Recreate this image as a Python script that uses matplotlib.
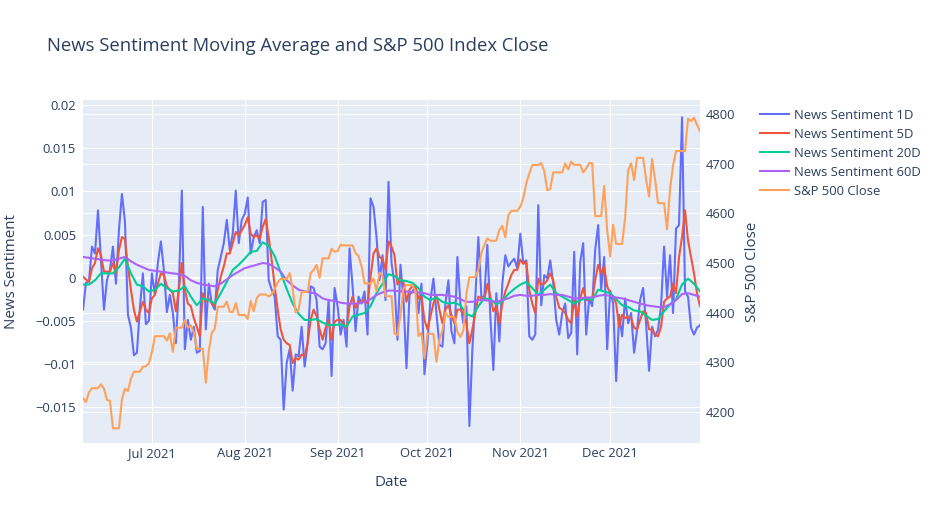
import matplotlib
matplotlib.use("Agg")
import matplotlib.pyplot as plt
import matplotlib.dates as mdates
from matplotlib.ticker import FuncFormatter
import pandas as pd

start = "2021-06-08"
end = "2021-12-31"

# daily news sentiment
sentiment_1d = [
    -0.0037, -0.0006, -0.0004, 0.0036, 0.0028, 0.0078, 0.0020, -0.0037, -0.0003, 0.0009,
    0.0036, -0.0007, 0.0055, 0.0097, 0.0065, -0.0043, -0.0058, -0.0090, -0.0087, -0.0035,
    0.0005, -0.0054, -0.0050, 0.0005, -0.0020, 0.0017, 0.0042, 0.0009, -0.0040, -0.0020,
    -0.0041, -0.0076, -0.0010, 0.0101, -0.0083, -0.0049, -0.0072, -0.0057, -0.0087, -0.0085,
    0.0082, -0.0060, -0.0007, -0.0030, -0.0037, 0.0009, 0.0024, 0.0040, 0.0067, 0.0032,
    0.0051, 0.0101, 0.0040, 0.0067, 0.0074, 0.0093, 0.0028, 0.0047, 0.0055, 0.0040,
    0.0088, 0.0090, -0.0003, -0.0014, -0.0022, -0.0068, -0.0072, -0.0153, -0.0099, -0.0083,
    -0.0131, -0.0089, -0.0091, -0.0057, -0.0103, -0.0076, -0.0010, -0.0012, -0.0026, -0.0080,
    -0.0083, -0.0076, -0.0026, -0.0114, -0.0012, -0.0033, -0.0066, -0.0049, -0.0080, 0.0034,
    -0.0010, -0.0062, -0.0022, -0.0030, -0.0016, -0.0066, 0.0092, 0.0082, 0.0047, -0.0003,
    0.0026, -0.0026, 0.0111, 0.0017, -0.0007, -0.0072, 0.0015, -0.0026, -0.0105, -0.0020,
    -0.0016, -0.0010, -0.0041, -0.0007, -0.0112, -0.0076, -0.0026, -0.0001, -0.0041, -0.0078,
    -0.0080, -0.0030, -0.0003, -0.0062, -0.0076, 0.0024, -0.0030, -0.0053, -0.0033, -0.0172,
    -0.0083, -0.0022, 0.0047, -0.0022, -0.0022, 0.0038, -0.0045, -0.0107, -0.0018, -0.0074,
    -0.0007, 0.0026, 0.0013, 0.0018, 0.0022, 0.0011, 0.0051, 0.0017, 0.0020, -0.0068,
    -0.0072, -0.0066, 0.0084, -0.0032, 0.0003, -0.0001, 0.0020, -0.0007, -0.0049, -0.0066,
    -0.0041, -0.0030, -0.0070, -0.0064, 0.0030, -0.0089, 0.0018, 0.0040, -0.0066, -0.0024,
    -0.0033, 0.0032, 0.0061, -0.0014, 0.0024, -0.0083, -0.0015, -0.0030, -0.0120, -0.0043,
    -0.0068, -0.0024, -0.0053, -0.0041, -0.0087, -0.0060, -0.0026, -0.0012, -0.0053, -0.0108,
    -0.0057, -0.0068, -0.0060, -0.0033, 0.0036, -0.0022, 0.0026, -0.0041, 0.0057, 0.0061,
    0.0186, -0.0016, -0.0022, -0.0058, -0.0066, -0.0058, -0.0055,
]

# 5 day average, daily
sentiment_5d = [
    0.0001, -0.0002, -0.0005, 0.0011, 0.0017, 0.0034, 0.0026, 0.0007, 0.0007, 0.0007,
    0.0017, 0.0005, 0.0032, 0.0047, 0.0045, 0.0013, -0.0014, -0.0037, -0.0051, -0.0039,
    -0.0028, -0.0037, -0.0041, -0.0024, -0.0020, -0.0007, 0.0005, 0.0003, -0.0010, -0.0014,
    -0.0018, -0.0039, -0.0014, 0.0017, -0.0014, -0.0030, -0.0033, -0.0047, -0.0057, -0.0068,
    -0.0018, -0.0028, -0.0024, -0.0030, -0.0033, -0.0014, 0.0001, 0.0013, 0.0028, 0.0028,
    0.0040, 0.0053, 0.0049, 0.0055, 0.0061, 0.0070, 0.0051, 0.0047, 0.0049, 0.0045,
    0.0059, 0.0068, 0.0047, 0.0020, -0.0010, -0.0037, -0.0060, -0.0072, -0.0076, -0.0078,
    -0.0099, -0.0093, -0.0095, -0.0089, -0.0091, -0.0076, -0.0049, -0.0037, -0.0045, -0.0060,
    -0.0072, -0.0058, -0.0049, -0.0072, -0.0051, -0.0049, -0.0049, -0.0055, -0.0059, -0.0033,
    -0.0022, -0.0035, -0.0028, -0.0028, -0.0026, -0.0030, 0.0001, 0.0028, 0.0034, 0.0024,
    0.0022, 0.0009, 0.0042, 0.0036, 0.0026, -0.0008, -0.0001, -0.0005, -0.0028, -0.0014,
    -0.0010, -0.0010, -0.0024, -0.0022, -0.0049, -0.0060, -0.0045, -0.0030, -0.0020, -0.0037,
    -0.0053, -0.0037, -0.0032, -0.0043, -0.0053, -0.0037, -0.0037, -0.0041, -0.0053, -0.0076,
    -0.0060, -0.0041, -0.0022, -0.0024, -0.0026, -0.0007, -0.0022, -0.0039, -0.0033, -0.0053,
    -0.0030, -0.0016, -0.0007, 0.0003, 0.0009, 0.0009, 0.0021, 0.0016, 0.0018, -0.0014,
    -0.0030, -0.0041, -0.0001, -0.0008, -0.0007, -0.0003, 0.0005, -0.0003, -0.0022, -0.0035,
    -0.0037, -0.0041, -0.0049, -0.0053, -0.0026, -0.0045, -0.0024, -0.0012, -0.0026, -0.0026,
    -0.0026, -0.0003, 0.0015, 0.0005, 0.0013, -0.0010, -0.0018, -0.0022, -0.0030, -0.0057,
    -0.0043, -0.0047, -0.0045, -0.0047, -0.0058, -0.0060, -0.0049, -0.0039, -0.0041, -0.0060,
    -0.0060, -0.0066, -0.0068, -0.0057, -0.0028, -0.0024, -0.0022, -0.0007, -0.0018, 0.0024,
    0.0047, 0.0078, 0.0043, 0.0024, 0.0005, -0.0018, -0.0033,
]

# 20 and 60 day averages, read every second day
sentiment_20d = [
    -0.0008, -0.0008, -0.0003, 0.0005, 0.0005, 0.0005, 0.0012, 0.0022, 0.0005, -0.0008,
    -0.0010, -0.0016, -0.0014, -0.0007, -0.0012, -0.0016, -0.0015, -0.0010, -0.0022, -0.0032,
    -0.0024, -0.0026, -0.0030, -0.0018, -0.0005, 0.0009, 0.0015, 0.0022, 0.0030, 0.0031,
    0.0041, 0.0037, 0.0025, 0.0006, -0.0013, -0.0030, -0.0042, -0.0049, -0.0049, -0.0048,
    -0.0052, -0.0055, -0.0055, -0.0054, -0.0057, -0.0045, -0.0043, -0.0041, -0.0033, -0.0018,
    -0.0007, 0.0004, 0.0002, -0.0003, -0.0004, -0.0006, -0.0012, -0.0022, -0.0026, -0.0023,
    -0.0028, -0.0030, -0.0029, -0.0032, -0.0042, -0.0045, -0.0033, -0.0024, -0.0025, -0.0031,
    -0.0027, -0.0019, -0.0013, -0.0008, -0.0005, -0.0012, -0.0020, -0.0014, -0.0008, -0.0018,
    -0.0022, -0.0026, -0.0030, -0.0026, -0.0024, -0.0026, -0.0014, -0.0016, -0.0018, -0.0025,
    -0.0032, -0.0034, -0.0038, -0.0039, -0.0044, -0.0049, -0.0048, -0.0039, -0.0031, -0.0025,
    -0.0008, -0.0001, -0.0007, -0.0016,
]

sentiment_60d = [
    0.0024, 0.0023, 0.0022, 0.0021, 0.0020, 0.0020, 0.0022, 0.0024, 0.0019, 0.0015,
    0.0012, 0.0009, 0.0008, 0.0007, 0.0006, 0.0005, 0.0004, 0.0002, -0.0003, -0.0006,
    -0.0008, -0.0009, -0.0010, -0.0007, -0.0002, 0.0003, 0.0007, 0.0011, 0.0013, 0.0015,
    0.0017, 0.0016, 0.0012, 0.0007, -0.0003, -0.0009, -0.0014, -0.0016, -0.0017, -0.0019,
    -0.0024, -0.0026, -0.0027, -0.0029, -0.0030, -0.0030, -0.0030, -0.0028, -0.0025, -0.0020,
    -0.0017, -0.0015, -0.0015, -0.0016, -0.0016, -0.0017, -0.0017, -0.0018, -0.0020, -0.0020,
    -0.0020, -0.0021, -0.0022, -0.0025, -0.0028, -0.0028, -0.0026, -0.0026, -0.0027, -0.0028,
    -0.0026, -0.0024, -0.0021, -0.0020, -0.0021, -0.0021, -0.0020, -0.0020, -0.0019, -0.0020,
    -0.0020, -0.0022, -0.0024, -0.0024, -0.0023, -0.0023, -0.0021, -0.0020, -0.0021, -0.0023,
    -0.0024, -0.0026, -0.0028, -0.0030, -0.0032, -0.0033, -0.0034, -0.0034, -0.0031, -0.0026,
    -0.0019, -0.0018, -0.0020, -0.0022,
]

# S&P 500 closes on trading days
sp500_dates = [
    "06-08", "06-09", "06-10", "06-11", "06-14", "06-15", "06-16", "06-17", "06-18", "06-21",
    "06-22", "06-23", "06-24", "06-25", "06-28", "06-29", "06-30",
    "07-01", "07-02", "07-06", "07-07", "07-08", "07-09", "07-12", "07-13", "07-14", "07-15",
    "07-16", "07-19", "07-20", "07-21", "07-22", "07-23", "07-26", "07-27", "07-28", "07-29", "07-30",
    "08-02", "08-03", "08-04", "08-05", "08-06", "08-09", "08-10", "08-11", "08-12", "08-13",
    "08-16", "08-17", "08-18", "08-19", "08-20", "08-23", "08-24", "08-25", "08-26", "08-27",
    "08-30", "08-31",
    "09-01", "09-02", "09-03", "09-07", "09-08", "09-09", "09-10", "09-13", "09-14", "09-15",
    "09-16", "09-17", "09-20", "09-21", "09-22", "09-23", "09-24", "09-27", "09-28", "09-29", "09-30",
    "10-01", "10-04", "10-05", "10-06", "10-07", "10-08", "10-11", "10-12", "10-13", "10-14",
    "10-15", "10-18", "10-19", "10-20", "10-21", "10-22", "10-25", "10-26", "10-27", "10-28", "10-29",
    "11-01", "11-02", "11-03", "11-04", "11-05", "11-08", "11-09", "11-10", "11-11", "11-12",
    "11-15", "11-16", "11-17", "11-18", "11-19", "11-22", "11-23", "11-24", "11-26", "11-29", "11-30",
    "12-01", "12-02", "12-03", "12-06", "12-07", "12-08", "12-09", "12-10", "12-13", "12-14",
    "12-15", "12-16", "12-17", "12-20", "12-21", "12-22", "12-23", "12-27", "12-28", "12-29",
    "12-30", "12-31",
]
sp500_close = [
    4227.26, 4219.55, 4239.18, 4247.44, 4255.15, 4246.59, 4223.70, 4221.86, 4166.45, 4224.79,
    4246.44, 4241.84, 4266.49, 4280.70, 4290.61, 4291.80, 4297.50,
    4319.94, 4352.34, 4343.54, 4358.13, 4320.82, 4369.55, 4384.63, 4369.21, 4374.30, 4360.03,
    4327.16, 4258.49, 4323.06, 4358.69, 4367.48, 4411.79, 4422.30, 4401.46, 4400.64, 4419.15, 4395.26,
    4387.16, 4423.15, 4402.66, 4429.10, 4436.52, 4432.35, 4436.75, 4447.70, 4460.83, 4468.00,
    4479.71, 4448.08, 4400.27, 4405.80, 4441.67, 4479.53, 4486.23, 4496.19, 4470.00, 4509.37,
    4528.79, 4522.68,
    4524.09, 4536.95, 4535.43, 4520.03, 4514.07, 4493.28, 4458.58, 4468.73, 4443.05, 4480.70,
    4473.75, 4432.99, 4357.73, 4354.19, 4395.64, 4448.98, 4455.48, 4443.11, 4352.63, 4359.46, 4307.54,
    4357.04, 4300.46, 4345.72, 4363.55, 4399.76, 4391.34, 4361.19, 4350.65, 4363.80, 4438.26,
    4471.37, 4486.46, 4519.63, 4536.19, 4549.78, 4544.90, 4566.48, 4574.79, 4551.68, 4596.42, 4605.38,
    4613.67, 4630.65, 4660.57, 4680.06, 4697.53, 4701.70, 4685.25, 4646.71, 4649.27, 4682.85,
    4682.80, 4700.90, 4688.67, 4704.54, 4697.96, 4682.94, 4690.70, 4701.46, 4594.62, 4655.27, 4567.00,
    4513.04, 4577.10, 4538.43, 4591.67, 4686.75, 4701.21, 4667.45, 4712.02, 4668.97, 4634.09,
    4709.85, 4668.67, 4620.64, 4568.02, 4649.23, 4696.56, 4725.79, 4791.19, 4786.35, 4793.06,
    4778.73, 4766.18,
]

BG = "#E5ECF6"
TXT = "#2a3f5f"
FONT = "Open Sans"
TICK_SIZE = 9.4

days = pd.date_range(start, end, freq="D")
days_2d = pd.date_range(start, end, freq="2D")
# markets closed on weekends: carry last close forward onto the daily grid
sp500 = pd.Series(sp500_close, index=pd.to_datetime(["2021-" + d for d in sp500_dates]))
sp500 = sp500.reindex(days).ffill()

fig = plt.figure(figsize=(9.37, 5.25), dpi=100)
W, H = 937, 525
rect = [83 / W, 1 - 443 / H, (700 - 83) / W, (443 - 100) / H]

left_lim = (-0.01917, 0.0206)
right_lim = (4136.9, 4828.8)
right_ticks = [4200, 4300, 4400, 4500, 4600, 4700, 4800]
left_ticks = [-0.015, -0.01, -0.005, 0, 0.005, 0.01, 0.015, 0.02]

# background axes: colour, x grid and right-axis grid
bg = fig.add_axes(rect)
bg.set_facecolor(BG)
bg.set_ylim(*right_lim)
bg.set_yticks(right_ticks)
bg.tick_params(axis="y", left=False, labelleft=False)
bg.grid(True, color="white", linewidth=0.75)
bg.set_axisbelow(True)

ax = fig.add_axes(rect, sharex=bg)
ax.patch.set_visible(False)
ax2 = fig.add_axes(rect, sharex=bg)
ax2.patch.set_visible(False)

for a in (bg, ax, ax2):
    for s in a.spines.values():
        s.set_visible(False)

ax.plot(days, sentiment_1d, color="#636efa", lw=1.5, label="News Sentiment 1D")
ax.plot(days, sentiment_5d, color="#EF553B", lw=1.5, label="News Sentiment 5D")
ax.plot(days_2d, sentiment_20d, color="#00cc96", lw=1.5, label="News Sentiment 20D")
ax.plot(days_2d, sentiment_60d, color="#ab63fa", lw=1.5, label="News Sentiment 60D")
ax2.plot(days, sp500.values, color="#FFA15A", lw=1.5, label="S&P 500 Close")

ax.set_ylim(*left_lim)
ax.set_yticks(left_ticks)
ax.yaxis.set_major_formatter(FuncFormatter(lambda v, p: f"{v:g}".replace("-", "\u2212")))
ax.grid(True, axis="y", color="white", linewidth=0.75)
ax.axhline(0, color="white", linewidth=1.5, zorder=0.5)
ax.set_axisbelow(True)
ax.tick_params(axis="y", length=0, pad=5, labelsize=TICK_SIZE, labelcolor=TXT)
ax.tick_params(axis="x", bottom=False, labelbottom=False)

ax2.yaxis.tick_right()
ax2.set_ylim(*right_lim)
ax2.set_yticks(right_ticks)
ax2.tick_params(axis="y", length=0, pad=4, labelsize=TICK_SIZE, labelcolor=TXT)
ax2.tick_params(axis="x", bottom=False, labelbottom=False)

bg.set_xlim(days[0], days[-1])
bg.xaxis.set_major_locator(mdates.MonthLocator(bymonth=range(7, 13)))
bg.xaxis.set_major_formatter(mdates.DateFormatter("%b %Y"))
bg.tick_params(axis="x", length=0, pad=3, labelsize=TICK_SIZE, labelcolor=TXT)

for lab in ax.get_yticklabels() + ax2.get_yticklabels() + bg.get_xticklabels():
    lab.set_fontfamily(FONT)

bg.set_xlabel("Date", fontsize=10.9, color=TXT, fontfamily=FONT)
bg.xaxis.set_label_coords(0.5, (443 - 483) / 343)
bg.xaxis.label.set_va("center")
ax.set_ylabel("News Sentiment", fontsize=10.9, color=TXT, fontfamily=FONT)
ax.yaxis.set_label_coords((12 - 83) / 617, 0.5)
ax.yaxis.label.set_va("center")
ax2.set_ylabel("S&P 500 Close", fontsize=10.9, color=TXT, fontfamily=FONT)
ax2.yaxis.set_label_position("right")
ax2.yaxis.set_label_coords((752 - 83) / 617, 0.5)
ax2.yaxis.label.set_va("center")
ax2.yaxis.label.set_rotation(90)

fig.text(47 / W, 1 - 46 / H, "News Sentiment Moving Average and S&P 500 Index Close",
         fontsize=13.3, color=TXT, fontfamily=FONT, ha="left", va="center")

handles = ax.get_lines()[:4] + ax2.get_lines()[:1]
fig.legend(handles, [h.get_label() for h in handles], loc="upper left",
           bbox_to_anchor=(760 / W, 1 - 109 / H), frameon=False,
           prop={"family": FONT, "size": TICK_SIZE}, labelcolor=TXT,
           handlelength=2.2, handletextpad=0.41, labelspacing=0.46,
           borderpad=0, borderaxespad=0)

fig.savefig("out.png", dpi=100)
